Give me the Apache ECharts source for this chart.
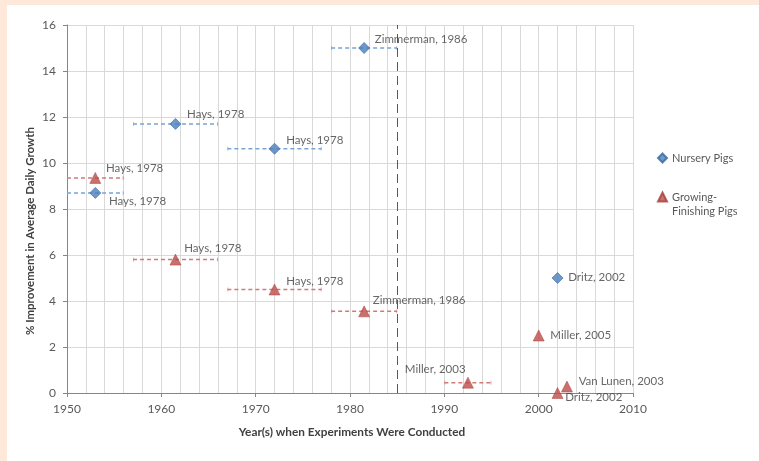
<!DOCTYPE html>
<html>
<head>
<meta charset="utf-8">
<script src="https://cdn.jsdelivr.net/npm/echarts@6/dist/echarts.min.js"></script>
<style>
  html, body { margin: 0; padding: 0; background: #fde8d9; }
  #panel { position: absolute; left: 7px; top: 5px; right: 0; bottom: 0; background: #fff; }
  #main { position: absolute; left: 0; top: 0; width: 759px; height: 461px; }
</style>
</head>
<body>
<div id="panel"></div>
<div id="main"></div>
<script>
// nursery pigs
var nurseryYear = [1953, 1961.5, 1972, 1981.5, 2002]
var nurseryVal = [8.7, 11.7, 10.62, 15, 5]
var nurseryLow = [1950, 1957, 1967, 1978, null]
var nurseryHigh = [1956, 1966, 1977, 1985, null]
var nurseryNames = ['Hays, 1978', 'Hays, 1978', 'Hays, 1978', 'Zimmerman, 1986', 'Dritz, 2002']

// growing-finishing pigs
var growYear = [1953, 1961.5, 1972, 1981.5, 1992.5, 2000, 2003, 2002]
var growVal = [9.35, 5.8, 4.5, 3.55, 0.45, 2.5, 0.28, 0]
var growLow = [1950, 1957, 1967, 1978, 1990, null, null, null]
var growHigh = [1956, 1966, 1977, 1985, 1995, null, null, null]
var growNames = ['Hays, 1978', 'Hays, 1978', 'Hays, 1978', 'Zimmerman, 1986', 'Miller, 2003', 'Miller, 2005', 'Van Lunen, 2003', 'Dritz, 2002']

var cutoffYear = 1985

// label placement (dx, dy from marker centre)
var nurseryLabelPos = [[14, 9, 'left'], [12, -9, 'left'], [12, -8, 'left'], [11, -8, 'left'], [11, 0, 'left']]
var growLabelPos = [[11, -9, 'left'], [9, -11, 'left'], [12, -8, 'left'], [9, -11, 'left'], [-2, -13, 'right'], [12, 0, 'left'], [12, -5, 'left'], [8, 5, 'left']]

var FONT = 'Lato, "Liberation Sans", sans-serif'

function points(years, vals, names, place, size) {
  return years.map(function (y, i) {
    var p = place[i]
    return {
      name: names[i],
      value: [y, vals[i]],
      label: {
        position: [size / 2 + p[0], size / 2 + p[1]],
        align: p[2],
        verticalAlign: 'middle'
      }
    }
  })
}

function bars(low, high, vals) {
  var out = []
  low.forEach(function (l, i) {
    if (l !== null) out.push([l, high[i], vals[i]])
  })
  return out
}

function errRender(color) {
  return function (params, api) {
    var y = api.value(2)
    var a = api.coord([api.value(0), y])
    var b = api.coord([api.value(1), y])
    return {
      type: 'group',
      children: [
        { type: 'line', shape: { x1: a[0], y1: a[1], x2: b[0], y2: b[1] },
          style: { stroke: color, lineWidth: 1.5, lineDash: [4, 3] } },
        { type: 'line', shape: { x1: a[0] + 0.5, y1: a[1] - 2, x2: a[0] + 0.5, y2: a[1] + 2 },
          style: { stroke: color, lineWidth: 1, opacity: 0.6 } },
        { type: 'line', shape: { x1: b[0] - 0.5, y1: b[1] - 2, x2: b[0] - 0.5, y2: b[1] + 2 },
          style: { stroke: color, lineWidth: 1, opacity: 0.6 } }
      ]
    }
  }
}

var myChart = echarts.init(document.getElementById('main'))
myChart.setOption({
  backgroundColor: 'transparent',
  animation: false,
  textStyle: { fontFamily: FONT },
  grid: { left: 67, right: 126, top: 25, bottom: 68 },
  legend: {
    left: 652,
    top: 146,
    orient: 'vertical',
    itemWidth: 9,
    itemHeight: 9,
    itemGap: 11,
    selectedMode: false,
    textStyle: { fontSize: 11, color: '#595959', fontFamily: FONT, lineHeight: 14 },
    formatter: function (name) {
      // blank first line keeps the icon beside the first text line
      return name === 'Growing-Finishing Pigs' ? ' \nGrowing-\nFinishing Pigs' : name
    },
    data: [
      { name: 'Nursery Pigs', icon: 'diamond' },
      { name: 'Growing-Finishing Pigs', icon: 'triangle' }
    ]
  },
  xAxis: {
    type: 'value',
    min: 1950,
    max: 2010,
    interval: 10,
    axisLine: { lineStyle: { color: '#868686' } },
    axisTick: { show: true, length: 4, lineStyle: { color: '#868686' } },
    axisLabel: { color: '#595959', fontSize: 12, margin: 10, fontFamily: FONT,
      formatter: function (v) { return String(v) } },
    splitLine: { lineStyle: { color: '#d9d9d9' } },
    minorTick: { show: false, splitNumber: 5 },
    minorSplitLine: { show: true, lineStyle: { color: '#d9d9d9' } }
  },
  yAxis: {
    type: 'value',
    min: 0,
    max: 16,
    interval: 2,
    axisLine: { show: true, lineStyle: { color: '#868686' } },
    axisTick: { show: true, length: 4, lineStyle: { color: '#868686' } },
    axisLabel: { color: '#595959', fontSize: 12, margin: 11, fontFamily: FONT },
    splitLine: { lineStyle: { color: '#d9d9d9' } }
  },
  graphic: [
    {
      type: 'text', x: 30, y: 231, rotation: Math.PI / 2,
      style: {
        text: '% Improvement in Average Daily Growth',
        fill: '#404040', font: 'bold 11.5px ' + FONT,
        align: 'center', verticalAlign: 'middle'
      }
    },
    {
      type: 'text', x: 352, y: 432,
      style: {
        text: 'Year(s) when Experiments Were Conducted',
        fill: '#404040', font: 'bold 11.8px ' + FONT,
        align: 'center', verticalAlign: 'middle'
      }
    }
  ],
  series: [
    {
      name: 'nursery range',
      type: 'custom',
      renderItem: errRender('#7aa3d6'),
      encode: { x: [0, 1], y: 2 },
      data: bars(nurseryLow, nurseryHigh, nurseryVal),
      z: 2
    },
    {
      name: 'grow range',
      type: 'custom',
      renderItem: errRender('#d27a77'),
      encode: { x: [0, 1], y: 2 },
      data: bars(growLow, growHigh, growVal),
      z: 2
    },
    {
      name: 'Nursery Pigs',
      type: 'scatter',
      symbol: 'diamond',
      symbolSize: 11,
      itemStyle: { color: '#4a7ebb', borderColor: '#3b689e', borderWidth: 0.8 },
      label: { show: true, formatter: '{b}', color: '#404040', fontSize: 11.5, fontFamily: FONT },
      data: points(nurseryYear, nurseryVal, nurseryNames, nurseryLabelPos, 11),
      z: 5,
      markLine: {
        silent: true,
        symbol: 'none',
        label: { show: false },
        lineStyle: { color: '#595959', type: [9, 5], width: 1 },
        data: [{ xAxis: cutoffYear }]
      }
    },
    {
      name: 'Growing-Finishing Pigs',
      type: 'scatter',
      symbol: 'triangle',
      symbolSize: 11,
      itemStyle: { color: '#be4b48', borderColor: '#a43e3b', borderWidth: 0.6 },
      label: { show: true, formatter: '{b}', color: '#404040', fontSize: 11.5, fontFamily: FONT },
      data: points(growYear, growVal, growNames, growLabelPos, 11),
      z: 5
    }
  ]
})
</script>
</body>
</html>
